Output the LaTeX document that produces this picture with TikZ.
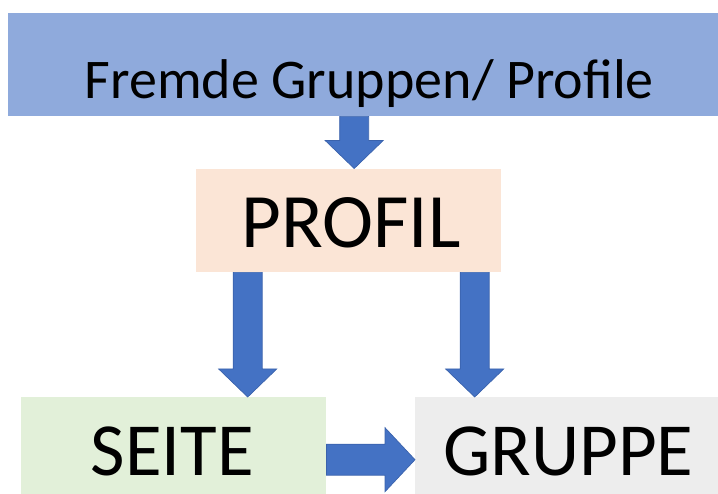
\documentclass[tikz,border=0pt]{standalone}
\usepackage{fontspec}
\setmainfont{Carlito}
\usetikzlibrary{calc}
\definecolor{topblue}{HTML}{8FAADC}
\definecolor{peach}{HTML}{FBE5D6}
\definecolor{palegreen}{HTML}{E2F0D9}
\definecolor{palegray}{HTML}{EDEDED}
\definecolor{arrowblue}{HTML}{4472C4}
\definecolor{arrowedge}{HTML}{3A62AC}
\tikzset{
  box/.style={draw=none, inner sep=0pt, anchor=north west},
  lbl/.style={inner sep=0pt, anchor=base, text=black},
  arrowfill/.style={fill=arrowblue, draw=arrowedge, line width=0.7pt, line join=miter},
}
% block arrow pointing down: #1 start of shaft, #2 tip
\newcommand\blockdown[2]{%
  \path[arrowfill] let \p1=(#1), \p2=(#2) in
    (\x1-14.5pt,\y1) -- (\x1+14.5pt,\y1) -- (\x1+14.5pt,\y2+28pt)
    -- (\x1+29pt,\y2+28pt) -- (\x1,\y2) -- (\x1-29pt,\y2+28pt)
    -- (\x1-14.5pt,\y2+28pt) -- cycle;}
% block arrow pointing right: #1 start of shaft, #2 tip
\newcommand\blockright[2]{%
  \path[arrowfill] let \p1=(#1), \p2=(#2) in
    (\x1,\y1+15.5pt) -- (\x1,\y1-15.5pt) -- (\x2-30pt,\y1-15.5pt)
    -- (\x2-30pt,\y1-32pt) -- (\x2,\y1) -- (\x2-30pt,\y1+32pt)
    -- (\x2-30pt,\y1+15.5pt) -- cycle;}
\begin{document}
\begin{tikzpicture}[x=1pt,y=-1pt]
  \useasboundingbox (0,0) rectangle (718,494);
  % boxes
  \node[box, fill=topblue, minimum width=710pt, minimum height=103pt] (top) at (8,13) {};
  \node[box, fill=peach, minimum width=305pt, minimum height=103pt] (profil) at (196,169) {};
  \node[box, fill=palegreen, minimum width=305pt, minimum height=97pt] (seite) at (21,397) {};
  \node[box, fill=palegray, minimum width=303pt, minimum height=97pt] (gruppe) at (415,397) {};
  % labels
  \node[lbl, font=\fontsize{56}{62}\selectfont] (toplbl) at ([xshift=6pt,yshift=-33.5pt]top.center) {Fremde Gruppen/ Profile};
  \node[lbl, font=\fontsize{77}{84}\selectfont] (profillbl) at ([xshift=2.5pt,yshift=-26.5pt]profil.center) {PROFIL};
  \node[lbl, font=\fontsize{75}{82}\selectfont] (seitelbl) at ([xshift=-1.5pt,yshift=-29.5pt]seite.center) {SEITE};
  \node[lbl, font=\fontsize{75}{82}\selectfont] (gruppelbl) at ([xshift=1.5pt,yshift=-29.5pt]gruppe.center) {GRUPPE};
  % connectors
  \coordinate (a1s) at ([xshift=-9pt]top.south);
  \coordinate (a1t) at ([xshift=5.5pt,yshift=0.5pt]profil.north);
  \coordinate (a2s) at ([xshift=-101pt]profil.south);
  \coordinate (a2t) at ([xshift=74pt]seite.north);
  \coordinate (a3s) at ([xshift=126pt]profil.south);
  \coordinate (a3t) at ([xshift=-92pt]gruppe.north);
  \coordinate (a4s) at ([yshift=-14pt]seite.east);
  \coordinate (a4t) at ([yshift=-14pt]gruppe.west);
  \blockdown{a1s}{a1t}
  \blockdown{a2s}{a2t}
  \blockdown{a3s}{a3t}
  \blockright{a4s}{a4t}
\end{tikzpicture}
\end{document}
